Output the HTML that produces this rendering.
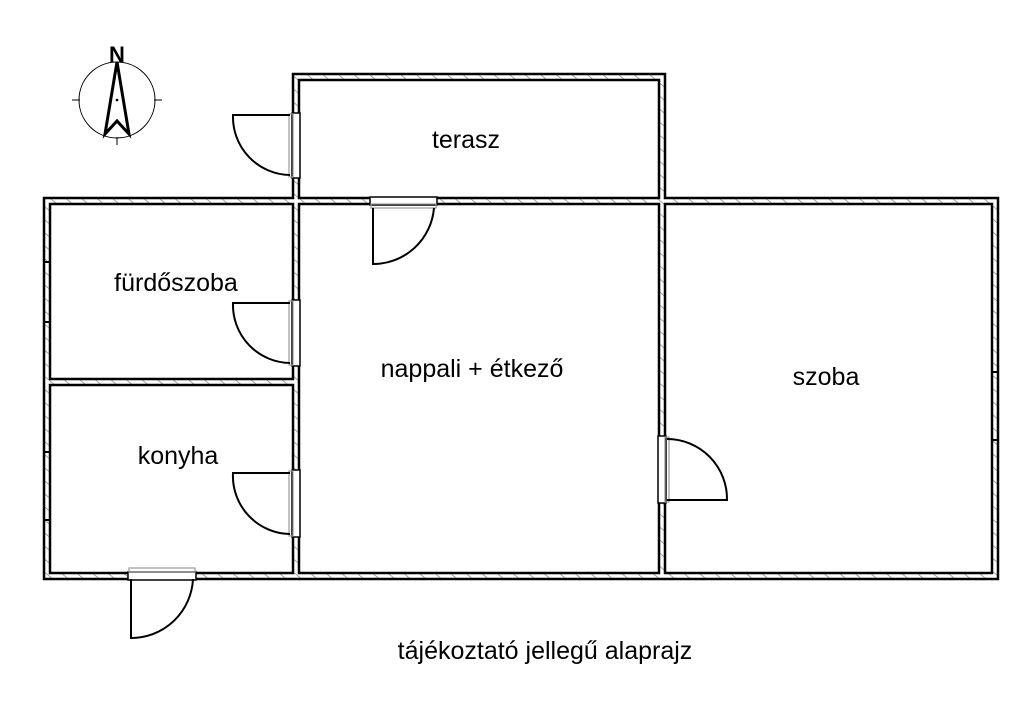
<!DOCTYPE html>
<html><head><meta charset="utf-8"><style>
html,body{margin:0;padding:0;background:#fff;}
svg{display:block;}
text{font-family:"Liberation Sans",sans-serif;fill:#000;}
</style></head><body>
<svg width="1024" height="717" viewBox="0 0 1024 717" xmlns="http://www.w3.org/2000/svg">
<defs>
<pattern id="h" width="10" height="10" patternUnits="userSpaceOnUse" patternTransform="rotate(-50)">
<rect width="10" height="10" fill="#fff"/>
<line x1="0" y1="0" x2="0" y2="10" stroke="#777" stroke-width="1.3"/>
</pattern>
</defs>
<path d="M44,198 H293 V74 H665 V198 H998 V579 H44 Z" fill="url(#h)" stroke="#000" stroke-width="2.5"/>
<rect x="299" y="80" width="360" height="118" fill="#fff" stroke="#000" stroke-width="2.5"/>
<rect x="50" y="204" width="243" height="175" fill="#fff" stroke="#000" stroke-width="2.5"/>
<rect x="50" y="385" width="243" height="188" fill="#fff" stroke="#000" stroke-width="2.5"/>
<rect x="299" y="204" width="360" height="369" fill="#fff" stroke="#000" stroke-width="2.5"/>
<rect x="665" y="204" width="327" height="369" fill="#fff" stroke="#000" stroke-width="2.5"/>
<g stroke="#000" stroke-width="2">
<line x1="44" y1="262" x2="50" y2="262"/><line x1="44" y1="322" x2="50" y2="322"/>
<line x1="44" y1="452" x2="50" y2="452"/><line x1="44" y1="520" x2="50" y2="520"/>
<line x1="992" y1="372" x2="998" y2="372"/><line x1="992" y1="440" x2="998" y2="440"/>
</g>
<g fill="#fff" stroke="#000" stroke-width="1.5">
<rect x="292" y="113" width="8" height="65"/>
<rect x="370" y="197" width="67" height="8"/>
<rect x="292" y="300" width="8" height="66"/>
<rect x="292" y="470" width="8" height="67"/>
<rect x="658" y="436" width="8" height="67"/>
<rect x="128" y="572" width="68" height="8"/>
</g>
<g fill="none" stroke="#999" stroke-width="1.2">
<rect x="289" y="114" width="4" height="63"/>
<rect x="371" y="204" width="65" height="4"/>
<rect x="289" y="301" width="4" height="64"/>
<rect x="289" y="471" width="4" height="65"/>
<rect x="665" y="437" width="4" height="65"/>
<rect x="129" y="568" width="66" height="4"/>
</g>
<g fill="none" stroke="#000" stroke-width="2">
<path d="M290,115 H233 A58,58 0 0 0 290,175"/>
<path d="M373,208 V264 A61,61 0 0 0 434,208"/>
<path d="M290,303 H233 A58,58 0 0 0 290,363"/>
<path d="M290,473 H233 A58,58 0 0 0 290,534"/>
<path d="M667,439 A60,60 0 0 1 727,500 H667"/>
<path d="M131,579 V638 A62,62 0 0 0 193,579"/>
</g>
<g fill="none" stroke="#000">
<circle cx="117" cy="100" r="38" stroke-width="1"/>
<line x1="72" y1="100" x2="80" y2="100" stroke-width="1"/>
<line x1="154" y1="100" x2="162" y2="100" stroke-width="1"/>
<line x1="117" y1="137" x2="117" y2="145" stroke-width="1"/>
<path d="M117,62 L105,134 L117,121 L129,134 Z" stroke-width="3" stroke-linejoin="miter"/>
</g>
<circle cx="117" cy="100" r="1.3" fill="#000"/>
<text x="117" y="62" font-size="22" text-anchor="middle" font-weight="bold">N</text>
<g font-size="25" text-anchor="middle">
<text x="466" y="148">terasz</text>
<text x="176" y="291">fürdőszoba</text>
<text x="472" y="377">nappali + étkező</text>
<text x="826" y="385">szoba</text>
<text x="178" y="464">konyha</text>
<text x="545" y="659">tájékoztató jellegű alaprajz</text>
</g>
</svg>
</body></html>
